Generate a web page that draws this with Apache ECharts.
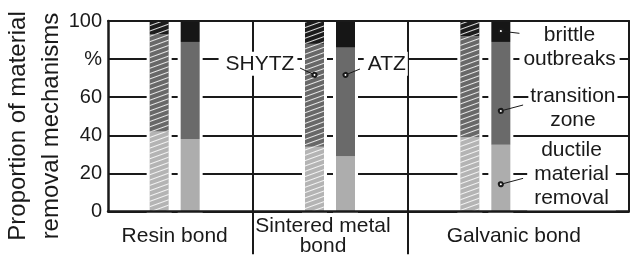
<!DOCTYPE html>
<html><head><meta charset="utf-8">
<script src="https://cdn.jsdelivr.net/npm/echarts@6/dist/echarts.min.js"></script>
<style>html,body{margin:0;padding:0;background:#fff}#c{width:630px;height:258px}</style>
</head><body><div id="c"></div>
<script>
// ---------- data ----------
const categories = ['Resin bond', 'Sintered metal\nbond', 'Galvanic bond'];
const shytzDuctile    = [42, 34, 39];
const shytzTransition = [51, 54, 53];
const shytzBrittle    = [7, 12, 8];
const atzDuctile      = [38, 29, 35];
const atzTransition   = [51, 57, 54];
const atzBrittle      = [11, 14, 11];
const yTickValues = [0, 20, 40, 60, 80, 100];
const yTickLabels = ['0', '20', '40', '60', '%', '100'];
const yTitle = 'Proportion of material\nremoval mechanisms';
const tagLabels = ['SHYTZ', 'ATZ'];
const mechanismLabels = ['brittle\noutbreaks', 'transition\nzone', 'ductile\nmaterial\nremoval'];

// ---------- layout / style ----------
const W = 630, H = 258;
const FONT = '"Liberation Sans", Arial, sans-serif';
const INK = '#1a1a1a';
const GRID_TOP = 21, GRID_BOTTOM = 46.5, FRAME_LEFT = 108;
const BARS_LEFT = 97, BARS_WIDTH = 466;
const BAR_W = 19, BAR_GAP_PX = 12;
const bandPx = BARS_WIDTH / categories.length;
const plotH = H - GRID_TOP - GRID_BOTTOM;
const off = (BAR_W + BAR_GAP_PX) / 2 / bandPx;      // bar centre offset in band units
const annXMax = (W - BARS_LEFT) / bandPx;
const annYMin = -(GRID_BOTTOM / plotH) * 100;

const solid = { ductile: '#adadad', transition: '#6a6a6a', brittle: '#161616' };
const hatchBase = { ductile: '#b4b4b4', transition: '#686868', brittle: '#1c1c1c' };
const hatch = { symbol: 'rect', symbolSize: 1, dashArrayX: [1, 0], dashArrayY: [1, 3.8],
  rotation: -0.35, color: 'rgba(255,255,255,0.85)' };

function barSeries(name, stack, data, color, decal, bg) {
  return {
    name, type: 'bar', stack, data, xAxisIndex: 2, yAxisIndex: 2,
    barWidth: BAR_W, barGap: (BAR_GAP_PX / BAR_W * 100) + '%',
    itemStyle: decal ? { color, decal } : { color },
    showBackground: !!bg,
    backgroundStyle: { color: '#fff', borderColor: '#fff', borderWidth: 6 },
    silent: true, z: 2
  };
}

const leader = (from, to) => [
  { coord: from, symbol: 'emptyCircle', symbolSize: 4, lineStyle: { color: INK, width: 1, type: 'solid' } },
  { coord: to, symbol: 'none', lineStyle: { color: INK, width: 1, type: 'solid' } }
];
const separator = (x) => [
  { coord: [x, 100], symbol: 'none', lineStyle: { color: INK, width: 2, type: 'solid' } },
  { coord: [x, -22.5], symbol: 'none', lineStyle: { color: INK, width: 2, type: 'solid' } }
];
const textMark = (coord, text, padding) => ({
  coord, value: text, symbol: 'rect', symbolSize: 1, itemStyle: { color: 'rgba(0,0,0,0)' },
  label: { show: true, position: 'inside', formatter: text, color: INK, fontSize: 21, fontFamily: FONT,
    lineHeight: 24, backgroundColor: '#fff', padding }
});

const option = {
  animation: false,
  backgroundColor: '#fff',
  grid: [
    { left: FRAME_LEFT, right: 1, top: GRID_TOP, bottom: GRID_BOTTOM },
    { left: BARS_LEFT, width: BARS_WIDTH, top: GRID_TOP, bottom: GRID_BOTTOM },
    { left: BARS_LEFT, right: 0, top: GRID_TOP, bottom: 0 }
  ],
  xAxis: [
    { gridIndex: 0, type: 'value', min: 0, max: 1, position: 'bottom', z: 5,
      axisLine: { show: true, onZero: false, lineStyle: { color: INK, width: 2.5 } },
      axisTick: { show: false }, axisLabel: { show: false }, splitLine: { show: false } },
    { gridIndex: 0, type: 'value', min: 0, max: 1, position: 'top', z: 5,
      axisLine: { show: true, onZero: false, lineStyle: { color: INK, width: 2 } },
      axisTick: { show: false }, axisLabel: { show: false }, splitLine: { show: false } },
    { gridIndex: 1, type: 'category', data: categories,
      axisLine: { show: false }, axisTick: { show: false }, splitLine: { show: false },
      axisLabel: {
        interval: 0, margin: 5, color: INK, fontSize: 21, fontFamily: FONT, lineHeight: 20,
        formatter: (v, i) => v.split('\n').map(s => '{c' + i + '|' + s + '}').join('\n'),
        rich: {
          c0: { fontSize: 21, fontFamily: FONT, color: INK, lineHeight: 20, padding: [20, 0, 0, 0] },
          c1: { fontSize: 21, fontFamily: FONT, color: INK, lineHeight: 20, padding: [0, 14, 0, 0] },
          c2: { fontSize: 21, fontFamily: FONT, color: INK, lineHeight: 20, padding: [20, 0, 0, 57] }
        }
      } },
    { gridIndex: 1, type: 'category', data: categories, show: false },
    { gridIndex: 2, type: 'value', min: 0, max: annXMax, show: false }
  ],
  yAxis: [
    { gridIndex: 0, type: 'value', min: 0, max: 100, interval: 20,
      axisLine: { show: true, onZero: false, lineStyle: { color: INK, width: 2.5 } },
      axisTick: { show: false },
      splitLine: { show: true, lineStyle: { color: INK, width: 2 } },
      axisLabel: { margin: 6, color: INK, fontSize: 20, fontFamily: FONT,
        formatter: v => yTickLabels[yTickValues.indexOf(v)] } },
    { gridIndex: 0, type: 'value', min: 0, max: 100, position: 'right', z: 5,
      axisLine: { show: true, onZero: false, lineStyle: { color: INK, width: 2 } },
      axisTick: { show: false }, axisLabel: { show: false }, splitLine: { show: false } },
    { gridIndex: 1, type: 'value', min: 0, max: 100, show: false },
    { gridIndex: 2, type: 'value', min: annYMin, max: 100, show: false }
  ],
  series: [
    barSeries('SHYTZ ductile', 'shytz', shytzDuctile, hatchBase.ductile, hatch, true),
    barSeries('SHYTZ transition', 'shytz', shytzTransition, hatchBase.transition, hatch),
    barSeries('SHYTZ brittle', 'shytz', shytzBrittle, hatchBase.brittle, hatch),
    barSeries('ATZ ductile', 'atz', atzDuctile, solid.ductile, null, true),
    barSeries('ATZ transition', 'atz', atzTransition, solid.transition),
    barSeries('ATZ brittle', 'atz', atzBrittle, solid.brittle),
    {
      type: 'scatter', xAxisIndex: 4, yAxisIndex: 3, data: [], silent: true, clip: false, z: 6,
      markLine: {
        silent: true, animation: false, label: { show: false }, symbol: ['none', 'none'],
        emphasis: { disabled: true },
        data: [
          separator(1), separator(2),
          leader([1.5 - off, 71.7], [1.307, 75.3]),
          leader([1.5 + off, 71.7], [1.693, 74.8]),
          leader([2.5 + off, 94.7], [2.743, 93.3]),
          leader([2.5 + off, 52.8], [2.743, 55.9]),
          leader([2.5 + off, 14.3], [2.743, 17.4])
        ]
      },
      markPoint: {
        silent: true, animation: false,
        data: [
          textMark([1.0365, 77.5], tagLabels[0], [0, 3, 0, 7]),
          textMark([1.859, 77.5], tagLabels[1], [0, 2, 0, 4]),
          textMark([3.042, 86.0], mechanismLabels[0], [0, 4]),
          textMark([3.064, 54.2], mechanismLabels[1], [0, 2]),
          textMark([3.055, 19.6], mechanismLabels[2], [0, 7])
        ]
      }
    }
  ],
  graphic: [
    { type: 'text', x: 35, y: 126, rotation: Math.PI / 2, z: 10, silent: true,
      style: { text: yTitle, fill: INK, fontSize: 24, fontFamily: FONT, lineHeight: 33,
        align: 'center', verticalAlign: 'middle' } }
  ]
};

const chart = echarts.init(document.getElementById('c'), null, { renderer: 'canvas' });
chart.setOption(option);
</script></body></html>
